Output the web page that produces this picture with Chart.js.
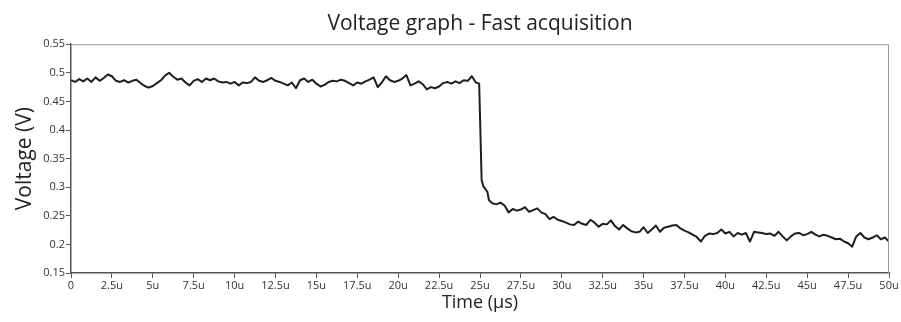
<!DOCTYPE html>
<html>
<head>
<meta charset="utf-8">
<script src="https://cdn.jsdelivr.net/npm/chart.js@4/dist/chart.umd.min.js"></script>
<style>
html,body{margin:0;padding:0;background:#fff;}
#wrap{width:901px;height:322px;position:relative;}
</style>
</head>
<body>
<div id="wrap"><canvas id="c" width="901" height="322"></canvas></div>
<script>
const times = [
0,0.25,0.5,0.75,1,1.25,1.5,1.75,2,2.25,2.5,2.75,3,3.25,3.5,3.75,4,4.25,4.5,4.75,
5,5.25,5.5,5.75,6,6.25,6.5,6.75,7,7.25,7.5,7.75,8,8.25,8.5,8.75,9,9.25,9.5,9.75,
10,10.25,10.5,10.75,11,11.25,11.5,11.75,12,12.25,12.5,12.75,13,13.25,13.5,13.75,14,14.25,14.5,14.75,
15,15.25,15.5,15.75,16,16.25,16.5,16.75,17,17.25,17.5,17.75,18,18.25,18.5,18.75,19,19.25,19.5,19.75,
20,20.25,20.5,20.75,21,21.25,21.5,21.75,22,22.25,22.5,22.75,23,23.25,23.5,23.75,24,24.25,24.5,24.75,
24.95,25.1,25.2,25.3,25.45,25.55,25.75,26,26.25,26.5,26.75,27,27.25,27.5,27.75,28,28.25,28.5,28.75,29,29.25,29.5,29.75,
30,30.25,30.5,30.75,31,31.25,31.5,31.75,32,32.25,32.5,32.75,33,33.25,33.5,33.75,34,34.25,34.5,34.75,
35,35.25,35.5,35.75,36,36.25,36.5,36.75,37,37.25,37.5,37.75,38,38.25,38.5,38.75,39,39.25,39.5,39.75,
40,40.25,40.5,40.75,41,41.25,41.5,41.75,42,42.25,42.5,42.75,43,43.25,43.5,43.75,44,44.25,44.5,44.75,
45,45.25,45.5,45.75,46,46.25,46.5,46.75,47,47.25,47.5,47.75,48,48.25,48.5,48.75,49,49.25,49.5,49.75,50
];
const volts = [
0.487,0.484,0.489,0.485,0.490,0.484,0.492,0.486,0.491,0.497,0.494,0.486,0.484,0.487,0.483,0.486,0.488,0.482,0.477,0.474,
0.477,0.482,0.487,0.495,0.500,0.493,0.488,0.490,0.483,0.478,0.486,0.489,0.484,0.490,0.487,0.490,0.485,0.483,0.484,0.481,
0.484,0.478,0.483,0.482,0.484,0.492,0.486,0.484,0.487,0.491,0.486,0.484,0.481,0.478,0.483,0.473,0.487,0.490,0.484,0.488,
0.481,0.476,0.479,0.484,0.486,0.485,0.488,0.486,0.482,0.478,0.483,0.481,0.485,0.488,0.492,0.475,0.483,0.494,0.487,0.484,
0.486,0.490,0.496,0.478,0.481,0.485,0.480,0.471,0.475,0.473,0.476,0.482,0.484,0.481,0.485,0.482,0.487,0.486,0.494,0.483,
0.481,0.312,0.302,0.298,0.292,0.277,0.272,0.270,0.273,0.268,0.256,0.262,0.259,0.261,0.265,0.257,0.260,0.263,0.256,0.253,0.244,0.248,0.243,
0.241,0.238,0.235,0.234,0.240,0.236,0.234,0.243,0.238,0.231,0.236,0.235,0.242,0.232,0.226,0.234,0.228,0.223,0.221,0.222,
0.230,0.220,0.226,0.233,0.222,0.229,0.231,0.233,0.234,0.228,0.224,0.221,0.217,0.213,0.205,0.215,0.219,0.218,0.220,0.226,
0.219,0.222,0.214,0.220,0.217,0.220,0.205,0.222,0.221,0.220,0.218,0.219,0.215,0.222,0.214,0.207,0.214,0.219,0.220,0.216,
0.218,0.222,0.217,0.214,0.217,0.215,0.212,0.209,0.210,0.205,0.202,0.196,0.214,0.220,0.212,0.209,0.212,0.216,0.209,0.212,0.205
];
const xTickValues = [0,2.5,5,7.5,10,12.5,15,17.5,20,22.5,25,27.5,30,32.5,35,37.5,40,42.5,45,47.5,50];
const xTickLabels = ['0','2.5u','5u','7.5u','10u','12.5u','15u','17.5u','20u','22.5u','25u','27.5u','30u','32.5u','35u','37.5u','40u','42.5u','45u','47.5u','50u'];
const yTickValues = [0.15,0.2,0.25,0.3,0.35,0.4,0.45,0.5,0.55];
const yTickLabels = ['0.15','0.2','0.25','0.3','0.35','0.4','0.45','0.5','0.55'];

const FONT = '"Open Sans", "Noto Sans", sans-serif';
const points = times.map((t, i) => ({x: t, y: volts[i]}));

const framePlugin = {
  id: 'frame',
  afterDraw(chart) {
    const a = chart.chartArea, ctx = chart.ctx;
    ctx.save();
    ctx.strokeStyle = '#9a9a9a';
    ctx.lineWidth = 1;
    ctx.beginPath();
    ctx.moveTo(a.left, a.top + 0.5);
    ctx.lineTo(a.right - 0.5, a.top + 0.5);
    ctx.lineTo(a.right - 0.5, a.bottom);
    ctx.stroke();
    ctx.restore();
  }
};

new Chart(document.getElementById('c'), {
  type: 'line',
  data: {
    datasets: [{
      data: points,
      borderColor: '#1e1e1e',
      borderWidth: 2,
      borderJoinStyle: 'round',
      pointRadius: 0,
      tension: 0,
      fill: false
    }]
  },
  options: {
    responsive: false,
    animation: false,
    layout: {padding: {left: 12, right: 12, top: 4, bottom: 8}},
    plugins: {
      legend: {display: false},
      tooltip: {enabled: false},
      title: {
        display: true,
        fullSize: false,
        text: 'Voltage graph - Fast acquisition',
        color: '#222',
        font: {family: FONT, size: 21, weight: 'normal'},
        padding: {top: 7, bottom: 8}
      }
    },
    scales: {
      x: {
        type: 'linear',
        min: 0, max: 50,
        afterBuildTicks(s) { s.ticks = xTickValues.map(v => ({value: v})); },
        afterFit(s) { s.height = 41; },
        ticks: {
          autoSkip: false,
          maxRotation: 0,
          color: '#333',
          padding: 1,
          font: {family: FONT, size: 11},
          callback(v) { const i = xTickValues.indexOf(v); return i >= 0 ? xTickLabels[i] : ''; }
        },
        grid: {display: true, drawOnChartArea: false, drawTicks: true, tickLength: 5, color: '#555', tickWidth: 1},
        border: {display: true, color: '#555', width: 1.5},
        title: {display: true, text: 'Time (µs)', color: '#222', font: {family: FONT, size: 18}, padding: {top: 0, bottom: 0}}
      },
      y: {
        type: 'linear',
        min: 0.15, max: 0.55,
        afterBuildTicks(s) { s.ticks = yTickValues.map(v => ({value: v})); },
        afterFit(s) { s.width = 59; },
        ticks: {
          autoSkip: false,
          color: '#333',
          padding: 1,
          font: {family: FONT, size: 11},
          callback(v) { const i = yTickValues.findIndex(q => Math.abs(q - v) < 1e-9); return i >= 0 ? yTickLabels[i] : ''; }
        },
        grid: {display: true, drawOnChartArea: false, drawTicks: true, tickLength: 5, color: '#555', tickWidth: 1},
        border: {display: true, color: '#555', width: 1.5},
        title: {display: true, text: 'Voltage (V)', color: '#222', font: {family: FONT, size: 21}, padding: {top: 0, bottom: 0}}
      }
    }
  },
  plugins: [framePlugin]
});
</script>
</body>
</html>
